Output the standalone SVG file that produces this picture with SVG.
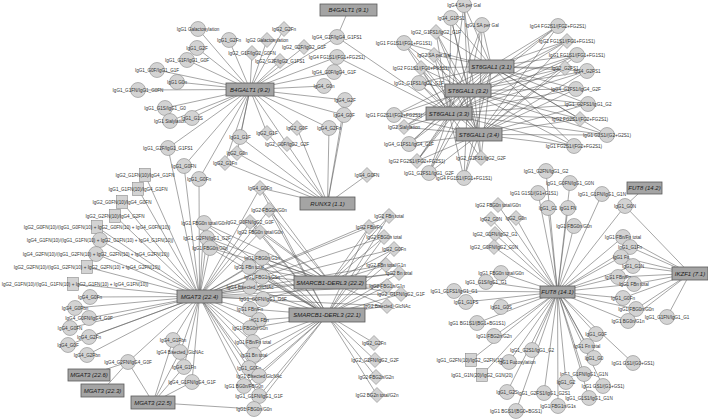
<svg xmlns="http://www.w3.org/2000/svg" xmlns:xlink="http://www.w3.org/1999/xlink" width="708" height="420" viewBox="0 0 708 420">
<style>
text{font-family:"Liberation Sans",Arial,sans-serif;font-size:4.6px;fill:#333;text-anchor:middle}
.h rect{fill:#a4a4a4;stroke:#5a5a5a;stroke-width:.8}
.h text{font-size:6px;font-style:italic;fill:#1a1a1a}
.e path{stroke:#5c5c5c;stroke-width:.55;fill:none}
</style>
<defs>
<circle id="C" r="7.5" fill="#d3d3d3" stroke="#8a8a8a" stroke-width=".6"/>
<polygon id="D" points="0,-7.5 7.5,0 0,7.5 -7.5,0" fill="#d3d3d3" stroke="#8a8a8a" stroke-width=".6"/>
<rect id="S" x="-5.5" y="-6.5" width="11" height="13" fill="#d3d3d3" stroke="#8a8a8a" stroke-width=".6"/>
</defs>
<rect width="708" height="420" fill="#fff"/>
<g class="e" id="connectors">
<path d="M250 89.5L198 29M250 89.5L229 40M250 89.5L284 29M250 89.5L267 40M250 89.5L197 48M250 89.5L304 47M250 89.5L187 60M250 89.5L252 53M250 89.5L280 61M250 89.5L157 70M250 89.5L177 82M250 89.5L138 90M250 89.5L165 108M250 89.5L170 121M250 89.5L192 118M250 89.5L337 37M250 89.5L337 57M250 89.5L334 72M250 89.5L324 86M250 89.5L345 100M250 89.5L344 115M250 89.5L329 128M250 89.5L297 128M250 89.5L267 133M250 89.5L240 137M250 89.5L287 144M250 89.5L237 153M250 89.5L225 163M250 89.5L168 148M250 89.5L184 166M250 89.5L199 179"/>
<path d="M348.5 10L337 37M449 113.5L337 37M449 113.5L337 57"/>
<path d="M327.5 203.5L345 100M327.5 203.5L344 115M327.5 203.5L329 128M327.5 203.5L297 128M327.5 203.5L267 133M327.5 203.5L240 137M327.5 203.5L287 144M327.5 203.5L237 153M327.5 203.5L225 163M327.5 203.5L367 175M327.5 203.5L260 188"/>
<path d="M491.5 66.5L464 5M491.5 66.5L451 18M491.5 66.5L482 25M491.5 66.5L436 32M491.5 66.5L404 43M491.5 66.5L434 55M491.5 66.5L421 68M491.5 66.5L419 83M491.5 66.5L394 115M491.5 66.5L404 127M491.5 66.5L558 26M491.5 66.5L567 41M491.5 66.5L577 55M491.5 66.5L565 68M491.5 66.5L587 71M491.5 66.5L576 89M491.5 66.5L588 104M491.5 66.5L580 119M491.5 66.5L607 135M491.5 66.5L574 146M491.5 66.5L409 144M491.5 66.5L417 161M491.5 66.5L429 173M491.5 66.5L464 178M491.5 66.5L481 158"/>
<path d="M468 90.5L464 5M468 90.5L451 18M468 90.5L482 25M468 90.5L436 32M468 90.5L404 43M468 90.5L434 55M468 90.5L421 68M468 90.5L419 83M468 90.5L394 115M468 90.5L404 127M468 90.5L558 26M468 90.5L567 41M468 90.5L577 55M468 90.5L565 68M468 90.5L587 71M468 90.5L576 89M468 90.5L588 104M468 90.5L580 119M468 90.5L607 135M468 90.5L574 146M468 90.5L409 144M468 90.5L417 161M468 90.5L429 173M468 90.5L464 178M468 90.5L481 158"/>
<path d="M449 113.5L464 5M449 113.5L451 18M449 113.5L482 25M449 113.5L436 32M449 113.5L404 43M449 113.5L434 55M449 113.5L421 68M449 113.5L419 83M449 113.5L394 115M449 113.5L404 127M449 113.5L558 26M449 113.5L567 41M449 113.5L577 55M449 113.5L565 68M449 113.5L587 71M449 113.5L576 89M449 113.5L588 104M449 113.5L580 119M449 113.5L607 135M449 113.5L574 146M449 113.5L409 144M449 113.5L417 161M449 113.5L429 173M449 113.5L464 178M449 113.5L481 158"/>
<path d="M479 134.5L464 5M479 134.5L451 18M479 134.5L482 25M479 134.5L436 32M479 134.5L404 43M479 134.5L434 55M479 134.5L421 68M479 134.5L419 83M479 134.5L394 115M479 134.5L404 127M479 134.5L558 26M479 134.5L567 41M479 134.5L577 55M479 134.5L565 68M479 134.5L587 71M479 134.5L576 89M479 134.5L588 104M479 134.5L580 119M479 134.5L607 135M479 134.5L574 146M479 134.5L409 144M479 134.5L417 161M479 134.5L429 173M479 134.5L464 178M479 134.5L481 158"/>
<path d="M199.5 296.5L145 175M199.5 296.5L138 189M199.5 296.5L122 202M199.5 296.5L115 216M199.5 296.5L97 227M199.5 296.5L100 240M199.5 296.5L96 254M199.5 296.5L87 267M199.5 296.5L73 284M199.5 296.5L90 297M199.5 296.5L75 308M199.5 296.5L89 318M199.5 296.5L70 328M199.5 296.5L89 337M199.5 296.5L68 345M199.5 296.5L87 355M199.5 296.5L128 362M199.5 296.5L173 340M199.5 296.5L180 352M199.5 296.5L184 367M199.5 296.5L192 382M199.5 296.5L168 148M199.5 296.5L184 166M199.5 296.5L199 179"/>
<path d="M199.5 296.5L260 188M199.5 296.5L269 210M199.5 296.5L250 222M199.5 296.5L260 232M199.5 296.5L204 223M199.5 296.5L207 238M199.5 296.5L210 248M199.5 296.5L262 258M199.5 296.5L249 267M199.5 296.5L262 277M199.5 296.5L250 287M199.5 296.5L263 299M199.5 296.5L250 309M199.5 296.5L259 320M199.5 296.5L250 328M199.5 296.5L253 342M199.5 296.5L254 355M199.5 296.5L249 368M199.5 296.5L259 376M199.5 296.5L244 386M199.5 296.5L259 396M199.5 296.5L389 216M199.5 296.5L369 227M199.5 296.5L384 237M199.5 296.5L394 249M199.5 296.5L386 265M199.5 296.5L399 273M199.5 296.5L387 286M199.5 296.5L401 294M199.5 296.5L387 306"/>
<path d="M89 375L128 362M102.5 390.5L128 362M153 402.5L128 362M153 402.5L173 340M153 402.5L180 352M153 402.5L184 367M153 402.5L192 382M153 402.5L254 409"/>
<path d="M327 315L260 188M327 315L269 210M327 315L250 222M327 315L260 232M327 315L204 223M327 315L207 238M327 315L210 248M327 315L262 258M327 315L249 267M327 315L262 277M327 315L250 287M327 315L263 299M327 315L250 309M327 315L259 320M327 315L250 328M327 315L253 342M327 315L254 355M327 315L249 368M327 315L259 376M327 315L244 386M327 315L259 396M327 315L254 409M327 315L389 216M327 315L369 227M327 315L384 237M327 315L394 249M327 315L386 265M327 315L399 273M327 315L387 286M327 315L401 294M327 315L387 306M327 315L374 343M327 315L375 360M327 315L376 377M327 315L377 395"/>
<path d="M330 282.5L260 188M330 282.5L269 210M330 282.5L250 222M330 282.5L260 232M330 282.5L204 223M330 282.5L207 238M330 282.5L210 248M330 282.5L262 258M330 282.5L249 267M330 282.5L262 277M330 282.5L250 287M330 282.5L263 299M330 282.5L389 216M330 282.5L369 227M330 282.5L384 237M330 282.5L394 249M330 282.5L386 265M330 282.5L399 273M330 282.5L387 286M330 282.5L401 294M330 282.5L387 306"/>
<path d="M557.5 292L498 205M557.5 292L491 219M557.5 292L516 218M557.5 292L495 234M557.5 292L494 247M557.5 292L501 273M557.5 292L538 193M557.5 292L546 171M557.5 292L570 183M557.5 292L602 194M557.5 292L548 208M557.5 292L568 208M557.5 292L574 226M557.5 292L625 206M557.5 292L623 237M557.5 292L630 247M557.5 292L621 257M557.5 292L633 266M557.5 292L618 277M557.5 292L634 284M557.5 292L623 298M557.5 292L636 309M557.5 292L628 321M557.5 292L596 334M557.5 292L587 346M557.5 292L594 358M557.5 292L633 363M557.5 292L584 374M557.5 292L566 382M557.5 292L603 386M557.5 292L544 393M557.5 292L589 398M557.5 292L558 406M557.5 292L516 411M557.5 292L507 392M557.5 292L482 375M557.5 292L509 362M557.5 292L471 360M557.5 292L494 336M557.5 292L477 323M557.5 292L501 307M557.5 292L466 302M557.5 292L454 291M557.5 292L486 282M557.5 292L532 350"/>
<path d="M644.5 188L625 206M690 273.5L625 206M690 273.5L623 237M690 273.5L630 247M690 273.5L621 257M690 273.5L633 266M690 273.5L618 277M690 273.5L634 284M690 273.5L623 298M690 273.5L636 309M690 273.5L628 321M690 273.5L667 317"/>
</g>
<g id="leaves">
<g id="b1"><use href="#C" x="198" y="29"/><text x="198" y="30.6">IgG1 Galactosylation</text></g>
<g id="b2"><use href="#C" x="229" y="40"/><text x="229" y="41.6">IgG1_G2Fn</text></g>
<g id="b3"><use href="#D" x="284" y="29"/><text x="284" y="30.6">IgG2_G2Fn</text></g>
<g id="b4"><use href="#D" x="267" y="40"/><text x="267" y="41.6">IgG2 Galactosylation</text></g>
<g id="b5"><use href="#C" x="197" y="48"/><text x="197" y="49.6">IgG1_G2F</text></g>
<g id="b6"><use href="#D" x="304" y="47"/><text x="304" y="48.6">IgG2_G2F/IgG2_G1F</text></g>
<g id="b7"><use href="#C" x="187" y="60"/><text x="187" y="61.6">IgG1_G1F/IgG1_G0F</text></g>
<g id="b8"><use href="#D" x="252" y="53"/><text x="252" y="54.6">IgG2_G1F/IgG2_G0FN</text></g>
<g id="b9"><use href="#D" x="280" y="61"/><text x="280" y="62.6">IgG2_G2F/IgG2_G1FS1</text></g>
<g id="b10"><use href="#C" x="157" y="70"/><text x="157" y="71.6">IgG1_G0F/IgG1_G1F</text></g>
<g id="b11"><use href="#C" x="177" y="82"/><text x="177" y="83.6">IgG1 G0n</text></g>
<g id="b12"><use href="#C" x="138" y="90"/><text x="138" y="91.6">IgG1_G1FN/IgG1_G0FN</text></g>
<g id="b13"><use href="#C" x="165" y="108"/><text x="165" y="109.6">IgG1_G1S/IgG1_G0</text></g>
<g id="b14"><use href="#C" x="170" y="121"/><text x="170" y="122.6">IgG1 Sialylation</text></g>
<g id="b15"><use href="#C" x="192" y="118"/><text x="192" y="119.6">IgG1_G1S</text></g>
<g id="b16"><use href="#C" x="337" y="37"/><text x="337" y="38.6">IgG4_G2F/IgG4_G1FS1</text></g>
<g id="b17"><use href="#C" x="337" y="57"/><text x="337" y="58.6">IgG4 FG1S1/(FG1+FG2S1)</text></g>
<g id="b18"><use href="#C" x="334" y="72"/><text x="334" y="73.6">IgG4_G0F/IgG4_G1F</text></g>
<g id="b19"><use href="#C" x="324" y="86"/><text x="324" y="87.6">IgG4_G0n</text></g>
<g id="b20"><use href="#C" x="345" y="100"/><text x="345" y="101.6">IgG4_G2F</text></g>
<g id="b21"><use href="#C" x="344" y="115"/><text x="344" y="116.6">IgG4_G0F</text></g>
<g id="b22"><use href="#C" x="329" y="128"/><text x="329" y="129.6">IgG4_G2Fn</text></g>
<g id="b23"><use href="#D" x="297" y="128"/><text x="297" y="129.6">IgG2_G0F</text></g>
<g id="b24"><use href="#D" x="267" y="133"/><text x="267" y="134.6">IgG2_G1F</text></g>
<g id="b25"><use href="#C" x="240" y="137"/><text x="240" y="138.6">IgG1_G1F</text></g>
<g id="b26"><use href="#D" x="287" y="144"/><text x="287" y="145.6">IgG2_G0F/IgG2_G2F</text></g>
<g id="b27"><use href="#D" x="237" y="153"/><text x="237" y="154.6">IgG2_G0n</text></g>
<g id="b28"><use href="#D" x="225" y="163"/><text x="225" y="164.6">IgG2_G1Fn</text></g>
<g id="b29"><use href="#C" x="168" y="148"/><text x="168" y="149.6">IgG1_G2F/IgG1_G1FS1</text></g>
<g id="b30"><use href="#C" x="184" y="166"/><text x="184" y="167.6">IgG1_G0FN</text></g>
<g id="b31"><use href="#C" x="199" y="179"/><text x="199" y="180.6">IgG1_G0Fn</text></g>
<g id="r1"><use href="#D" x="367" y="175"/><text x="367" y="176.6">IgG4_G0FN</text></g>
<g id="s1"><use href="#C" x="464" y="5"/><text x="464" y="6.6">IgG4 SA per Gal</text></g>
<g id="s2"><use href="#C" x="451" y="18"/><text x="451" y="19.6">IgG4_G1FS1</text></g>
<g id="s3"><use href="#C" x="482" y="25"/><text x="482" y="26.6">IgG1 SA per Gal</text></g>
<g id="s4"><use href="#D" x="436" y="32"/><text x="436" y="33.6">IgG2_G1FS1/IgG2_G1F</text></g>
<g id="s5"><use href="#C" x="404" y="43"/><text x="404" y="44.6">IgG1 FG1S1/(FG1+FG1S1)</text></g>
<g id="s6"><use href="#D" x="434" y="55"/><text x="434" y="56.6">IgG2 SA per Gal</text></g>
<g id="s7"><use href="#D" x="421" y="68"/><text x="421" y="69.6">IgG2 FG1S1/(FG1+FG1S1)</text></g>
<g id="s8"><use href="#C" x="419" y="83"/><text x="419" y="84.6">IgG1_G1FS1/IgG1_G1F</text></g>
<g id="s9"><use href="#C" x="394" y="115"/><text x="394" y="116.6">IgG1 FG2S1/(FG2+FG2S1)</text></g>
<g id="s10"><use href="#D" x="404" y="127"/><text x="404" y="128.6">IgG2 Sialylation</text></g>
<g id="s11"><use href="#C" x="558" y="26"/><text x="558" y="27.6">IgG4 FG2S1/(FG2+FG2S1)</text></g>
<g id="s12"><use href="#D" x="567" y="41"/><text x="567" y="42.6">IgG2 FG1S1/(FG1+FG1S1)</text></g>
<g id="s13"><use href="#C" x="577" y="55"/><text x="577" y="56.6">IgG1 FG1S1/(FG1+FG1S1)</text></g>
<g id="s14"><use href="#D" x="565" y="68"/><text x="565" y="69.6">IgG2_G2FS1</text></g>
<g id="s15"><use href="#C" x="587" y="71"/><text x="587" y="72.6">IgG4_G2FS1</text></g>
<g id="s16"><use href="#C" x="576" y="89"/><text x="576" y="90.6">IgG4_G2FS1/IgG4_G2F</text></g>
<g id="s17"><use href="#C" x="588" y="104"/><text x="588" y="105.6">IgG1_G2FS1/IgG1_G2</text></g>
<g id="s18"><use href="#D" x="580" y="119"/><text x="580" y="120.6">IgG2 FG2S1/(FG2+FG2S1)</text></g>
<g id="s19"><use href="#C" x="607" y="135"/><text x="607" y="136.6">IgG1 G2S1/(G2+G2S1)</text></g>
<g id="s20"><use href="#C" x="574" y="146"/><text x="574" y="147.6">IgG1 FG2S1/(FG2+FG2S1)</text></g>
<g id="s21"><use href="#C" x="409" y="144"/><text x="409" y="145.6">IgG4_G1FS1/IgG4_G1F</text></g>
<g id="s22"><use href="#D" x="417" y="161"/><text x="417" y="162.6">IgG2 FG2S1/(FG2+FG2S1)</text></g>
<g id="s23"><use href="#C" x="429" y="173"/><text x="429" y="174.6">IgG1_G2FS1/IgG1_G2F</text></g>
<g id="s24"><use href="#C" x="464" y="178"/><text x="464" y="179.6">IgG4 FG1S1/(FG1+FG1S1)</text></g>
<g id="s25"><use href="#D" x="481" y="158"/><text x="481" y="159.6">IgG2_G2FS1/IgG2_G2F</text></g>
<g id="m1"><use href="#S" x="145" y="175"/><text x="145" y="176.6">IgG2_G1FN(10)/IgG4_G1FN</text></g>
<g id="m2"><use href="#S" x="138" y="189"/><text x="138" y="190.6">IgG1_G1FN(10)/IgG4_G1FN</text></g>
<g id="m3"><use href="#S" x="122" y="202"/><text x="122" y="203.6">IgG2_G0FN(10)/IgG4_G0FN</text></g>
<g id="m4"><use href="#S" x="115" y="216"/><text x="115" y="217.6">IgG2_G2FN(10)/IgG4_G2FN</text></g>
<g id="m5"><use href="#S" x="97" y="227"/><text x="97" y="228.6">IgG2_G0FN(10)/(IgG1_G0FN(10) + IgG2_G0FN(10) + IgG4_G0FN(10))</text></g>
<g id="m6"><use href="#C" x="100" y="240"/><text x="100" y="241.6">IgG4_G1FN(10)/(IgG1_G1FN(10) + IgG2_G1FN(10) + IgG4_G1FN(10))</text></g>
<g id="m7"><use href="#C" x="96" y="254"/><text x="96" y="255.6">IgG4_G2FN(10)/(IgG1_G2FN(10) + IgG2_G2FN(10) + IgG4_G2FN(10))</text></g>
<g id="m8"><use href="#S" x="87" y="267"/><text x="87" y="268.6">IgG2_G2FN(10)/(IgG1_G2FN(10) + IgG2_G2FN(10) + IgG4_G2FN(10))</text></g>
<g id="m9"><use href="#S" x="73" y="284"/><text x="75" y="285.6">IgG2_G1FN(10)/(IgG1_G1FN(10) + IgG2_G1FN(10) + IgG4_G1FN(10))</text></g>
<g id="m10"><use href="#C" x="90" y="297"/><text x="90" y="298.6">IgG4_G0Fn</text></g>
<g id="m11"><use href="#C" x="75" y="308"/><text x="75" y="309.6">IgG4_G0Fbn</text></g>
<g id="m12"><use href="#C" x="89" y="318"/><text x="89" y="319.6">IgG4_G0FN/IgG4_G0F</text></g>
<g id="m13"><use href="#C" x="70" y="328"/><text x="70" y="329.6">IgG4_G0FN</text></g>
<g id="m14"><use href="#C" x="89" y="337"/><text x="89" y="338.6">IgG4_G2Fn</text></g>
<g id="m15"><use href="#C" x="68" y="345"/><text x="68" y="346.6">IgG4_G0F</text></g>
<g id="m16"><use href="#C" x="87" y="355"/><text x="87" y="356.6">IgG4_G2Fbn</text></g>
<g id="m17"><use href="#C" x="128" y="362"/><text x="128" y="363.6">IgG4_G2FN/IgG4_G0F</text></g>
<g id="m18"><use href="#C" x="173" y="340"/><text x="173" y="341.6">IgG4_G1Fbn</text></g>
<g id="m19"><use href="#C" x="180" y="352"/><text x="180" y="353.6">IgG4 Bisected_GlcNAc</text></g>
<g id="m20"><use href="#C" x="184" y="367"/><text x="184" y="368.6">IgG4_G1Fn</text></g>
<g id="m21"><use href="#C" x="192" y="382"/><text x="192" y="383.6">IgG4_G1FN/IgG4_G1F</text></g>
<g id="k1"><use href="#D" x="260" y="188"/><text x="260" y="189.6">IgG4_G0Fn</text></g>
<g id="k2"><use href="#D" x="269" y="210"/><text x="269" y="211.6">IgG2 FBG0n/G0n</text></g>
<g id="k3"><use href="#D" x="250" y="222"/><text x="250" y="223.6">IgG2_G0FN/IgG2_G0F</text></g>
<g id="k4"><use href="#D" x="260" y="232"/><text x="260" y="233.6">IgG2 FBG0n total/G0n</text></g>
<g id="k5"><use href="#C" x="204" y="223"/><text x="204" y="224.6">IgG1 FBG0n total/G0n</text></g>
<g id="k6"><use href="#C" x="207" y="238"/><text x="207" y="239.6">IgG1_G2FN/IgG1_G2F</text></g>
<g id="k7"><use href="#C" x="210" y="248"/><text x="210" y="249.6">IgG1 FBG0n/G0n</text></g>
<g id="k8"><use href="#C" x="262" y="258"/><text x="262" y="259.6">IgG1 FBG0n/G1n</text></g>
<g id="k9"><use href="#C" x="249" y="267"/><text x="249" y="268.6">IgG1 FBn total</text></g>
<g id="k10"><use href="#C" x="262" y="277"/><text x="262" y="278.6">IgG1 FBG1n/G1n</text></g>
<g id="k11"><use href="#C" x="250" y="287"/><text x="250" y="288.6">IgG4 Bisected_GlcNAc</text></g>
<g id="k12"><use href="#C" x="263" y="299"/><text x="263" y="300.6">IgG1_G0FN/IgG1_G0F</text></g>
<g id="k13"><use href="#C" x="250" y="309"/><text x="250" y="310.6">IgG1 FBn/Fn</text></g>
<g id="k14"><use href="#C" x="259" y="320"/><text x="259" y="321.6">IgG1 FBn</text></g>
<g id="k15"><use href="#C" x="250" y="328"/><text x="250" y="329.6">IgG1 FBG0n/G0n</text></g>
<g id="k16"><use href="#C" x="253" y="342"/><text x="253" y="343.6">IgG1 FBn/Fn total</text></g>
<g id="k17"><use href="#C" x="254" y="355"/><text x="254" y="356.6">IgG1 Bn total</text></g>
<g id="k18"><use href="#C" x="249" y="368"/><text x="249" y="369.6">IgG1_G0Fn</text></g>
<g id="k19"><use href="#C" x="259" y="376"/><text x="259" y="377.6">IgG1 Bisected GlcNAc</text></g>
<g id="k20"><use href="#C" x="244" y="386"/><text x="244" y="387.6">IgG1 BG0n/FBG0n</text></g>
<g id="k21"><use href="#C" x="259" y="396"/><text x="259" y="397.6">IgG1_G1FN/IgG1_G1F</text></g>
<g id="k22"><use href="#C" x="254" y="409"/><text x="254" y="410.6">IgG1 FBG0n/G0n</text></g>
<g id="q1"><use href="#D" x="389" y="216"/><text x="389" y="217.6">IgG2 FBn total</text></g>
<g id="q2"><use href="#D" x="369" y="227"/><text x="369" y="228.6">IgG2 FBn/Fn</text></g>
<g id="q3"><use href="#D" x="384" y="237"/><text x="384" y="238.6">IgG2 FBG0n total</text></g>
<g id="q4"><use href="#D" x="394" y="249"/><text x="394" y="250.6">IgG2_G0Fn</text></g>
<g id="q5"><use href="#D" x="386" y="265"/><text x="386" y="266.6">IgG2 FBn total/G1n</text></g>
<g id="q6"><use href="#D" x="399" y="273"/><text x="399" y="274.6">IgG2 Bn total</text></g>
<g id="q7"><use href="#D" x="387" y="286"/><text x="387" y="287.6">IgG2 FBG1n/G1n</text></g>
<g id="q8"><use href="#D" x="401" y="294"/><text x="401" y="295.6">IgG2_G1FN/IgG2_G1F</text></g>
<g id="q9"><use href="#D" x="387" y="306"/><text x="387" y="307.6">IgG2 Bisected_GlcNAc</text></g>
<g id="q10"><use href="#D" x="374" y="343"/><text x="374" y="344.6">IgG2_G2Fn</text></g>
<g id="q11"><use href="#D" x="375" y="360"/><text x="375" y="361.6">IgG2_G2FN/IgG2_G2F</text></g>
<g id="q12"><use href="#D" x="376" y="377"/><text x="376" y="378.6">IgG2 FBG2n/G2n</text></g>
<g id="q13"><use href="#D" x="377" y="395"/><text x="377" y="396.6">IgG2 BG2n total/G2n</text></g>
<g id="f1"><use href="#D" x="498" y="205"/><text x="498" y="206.6">IgG2 FBG0n total/G0n</text></g>
<g id="f2"><use href="#D" x="491" y="219"/><text x="491" y="220.6">IgG2_G0N</text></g>
<g id="f3"><use href="#D" x="516" y="218"/><text x="516" y="219.6">IgG2_G0n</text></g>
<g id="f4"><use href="#D" x="495" y="234"/><text x="495" y="235.6">IgG2_G1FN/IgG2_G1</text></g>
<g id="f5"><use href="#D" x="494" y="247"/><text x="494" y="248.6">IgG2_G0FN/IgG2_G0N</text></g>
<g id="f6"><use href="#C" x="501" y="273"/><text x="501" y="274.6">IgG1 FBG0n total/G0n</text></g>
<g id="f7"><use href="#C" x="538" y="193"/><text x="534" y="194.6">IgG1 G1S1/(G1+G1S1)</text></g>
<g id="f8"><use href="#C" x="546" y="171"/><text x="546" y="172.6">IgG1_G2FN/IgG1_G2</text></g>
<g id="f9"><use href="#C" x="570" y="183"/><text x="570" y="184.6">IgG1_G0FN/IgG1_G0N</text></g>
<g id="f10"><use href="#C" x="602" y="194"/><text x="602" y="195.6">IgG1_G1FN/IgG1_G1N</text></g>
<g id="f11"><use href="#C" x="548" y="208"/><text x="548" y="209.6">IgG1_G1</text></g>
<g id="f12"><use href="#C" x="568" y="208"/><text x="568" y="209.6">IgG1 FN</text></g>
<g id="f13"><use href="#C" x="574" y="226"/><text x="574" y="227.6">IgG1 FBG0n/G0n</text></g>
<g id="f14"><use href="#C" x="625" y="206"/><text x="625" y="207.6">IgG1_G0N</text></g>
<g id="f15"><use href="#C" x="623" y="237"/><text x="623" y="238.6">IgG1 FBn/Fn total</text></g>
<g id="f16"><use href="#C" x="630" y="247"/><text x="630" y="248.6">IgG1_G1Fn</text></g>
<g id="f17"><use href="#C" x="621" y="257"/><text x="621" y="258.6">IgG1 Fn</text></g>
<g id="f18"><use href="#C" x="633" y="266"/><text x="633" y="267.6">IgG1_G1N</text></g>
<g id="f19"><use href="#C" x="618" y="277"/><text x="618" y="278.6">IgG1 FBn/Fn</text></g>
<g id="f20"><use href="#C" x="634" y="284"/><text x="634" y="285.6">IgG1 FBn total</text></g>
<g id="f21"><use href="#C" x="623" y="298"/><text x="623" y="299.6">IgG1_G0Fn</text></g>
<g id="f22"><use href="#C" x="636" y="309"/><text x="636" y="310.6">IgG1 FBG0n/G0n</text></g>
<g id="f23"><use href="#C" x="628" y="321"/><text x="628" y="322.6">IgG1 BG0n/G1n</text></g>
<g id="f24"><use href="#C" x="667" y="317"/><text x="667" y="318.6">IgG1_G1FN/IgG1_G1</text></g>
<g id="f25"><use href="#C" x="596" y="334"/><text x="596" y="335.6">IgG1_G0F</text></g>
<g id="f26"><use href="#C" x="587" y="346"/><text x="587" y="347.6">IgG1 Fn total</text></g>
<g id="f27"><use href="#C" x="594" y="358"/><text x="594" y="359.6">IgG1_G0</text></g>
<g id="f28"><use href="#C" x="633" y="363"/><text x="633" y="364.6">IgG1 GS1/(G0+GS1)</text></g>
<g id="f29"><use href="#C" x="584" y="374"/><text x="584" y="375.6">IgG1_G1FN/IgG1_G1N</text></g>
<g id="f30"><use href="#C" x="566" y="382"/><text x="566" y="383.6">IgG1_G2</text></g>
<g id="f31"><use href="#C" x="603" y="386"/><text x="603" y="387.6">IgG1 GS1/(G1+GS1)</text></g>
<g id="f32"><use href="#C" x="544" y="393"/><text x="544" y="394.6">IgG1_G2FS1/IgG1_G2S1</text></g>
<g id="f33"><use href="#C" x="589" y="398"/><text x="589" y="399.6">IgG1_G1S1/IgG1_G1N</text></g>
<g id="f34"><use href="#C" x="558" y="406"/><text x="558" y="407.6">IgG1 FBG1n/G1s</text></g>
<g id="f35"><use href="#C" x="516" y="411"/><text x="516" y="412.6">IgG1 BGS1/(BG0+BGS1)</text></g>
<g id="f36"><use href="#C" x="507" y="392"/><text x="507" y="393.6">IgG1_G2S</text></g>
<g id="f37"><use href="#S" x="482" y="375"/><text x="482" y="376.6">IgG1_G1N(20)/IgG2_G1N(20)</text></g>
<g id="f38"><use href="#C" x="509" y="362"/><text x="517" y="363.6">IgG1 Fucosylation</text></g>
<g id="f39"><use href="#S" x="471" y="360"/><text x="470" y="361.6">IgG1_G2FN(10)/IgG2_G2FN(10)</text></g>
<g id="f40"><use href="#C" x="494" y="336"/><text x="494" y="337.6">IgG1 FBG2n/G2n</text></g>
<g id="f41"><use href="#C" x="477" y="323"/><text x="477" y="324.6">IgG1 BG1S1/(BG1+BG1S1)</text></g>
<g id="f42"><use href="#C" x="501" y="307"/><text x="501" y="308.6">IgG1_G0S</text></g>
<g id="f43"><use href="#C" x="466" y="302"/><text x="466" y="303.6">IgG1_G1FS</text></g>
<g id="f44"><use href="#C" x="454" y="291"/><text x="454" y="292.6">IgG1_G1FS1/IgG1_G1</text></g>
<g id="f45"><use href="#C" x="486" y="282"/><text x="486" y="283.6">IgG1_G1S/IgG1_G1</text></g>
<g id="f46"><use href="#C" x="532" y="350"/><text x="532" y="351.6">IgG1_G2S1/IgG1_G2</text></g>
</g>
<g id="hubs">
<g id="B4GALT1_9_1" class="h"><rect x="320" y="4" width="57" height="12"/><text x="348.5" y="12.2">B4GALT1 (9.1)</text></g>
<g id="B4GALT1_9_2" class="h"><rect x="226" y="83" width="48" height="13"/><text x="250" y="91.7">B4GALT1 (9.2)</text></g>
<g id="ST6GAL1_3_1" class="h"><rect x="469" y="60" width="45" height="13"/><text x="491.5" y="68.7">ST6GAL1 (3.1)</text></g>
<g id="ST6GAL1_3_2" class="h"><rect x="445" y="84" width="46" height="13"/><text x="468" y="92.7">ST6GAL1 (3.2)</text></g>
<g id="ST6GAL1_3_3" class="h"><rect x="426" y="107" width="46" height="13"/><text x="449" y="115.7">ST6GAL1 (3.3)</text></g>
<g id="ST6GAL1_3_4" class="h"><rect x="456" y="128" width="46" height="13"/><text x="479" y="136.7">ST6GAL1 (3.4)</text></g>
<g id="RUNX3_1_1" class="h"><rect x="300" y="197" width="55" height="13"/><text x="327.5" y="205.7">RUNX3 (1.1)</text></g>
<g id="SMARCB1_DERL3_22_2" class="h"><rect x="294" y="276" width="72" height="13"/><text x="330" y="284.7">SMARCB1-DERL3 (22.2)</text></g>
<g id="SMARCB1_DERL3_22_1" class="h"><rect x="289" y="308" width="76" height="14"/><text x="327" y="317.2">SMARCB1-DERL3 (22.1)</text></g>
<g id="MGAT3_22_4" class="h"><rect x="177" y="290" width="45" height="13"/><text x="199.5" y="298.7">MGAT3 (22.4)</text></g>
<g id="MGAT3_22_6" class="h"><rect x="68" y="369" width="42" height="12"/><text x="89" y="377.2">MGAT3 (22.6)</text></g>
<g id="MGAT3_22_3" class="h"><rect x="81" y="384" width="43" height="13"/><text x="102.5" y="392.7">MGAT3 (22.3)</text></g>
<g id="MGAT3_22_5" class="h"><rect x="131" y="396" width="44" height="13"/><text x="153" y="404.7">MGAT3 (22.5)</text></g>
<g id="FUT8_14_2" class="h"><rect x="627" y="182" width="35" height="12"/><text x="644.5" y="190.2">FUT8 (14.2)</text></g>
<g id="FUT8_14_1" class="h"><rect x="540" y="286" width="35" height="12"/><text x="557.5" y="294.2">FUT8 (14.1)</text></g>
<g id="IKZF1_7_1" class="h"><rect x="672" y="267" width="36" height="13"/><text x="690" y="275.7">IKZF1 (7.1)</text></g>
</g>
</svg>
